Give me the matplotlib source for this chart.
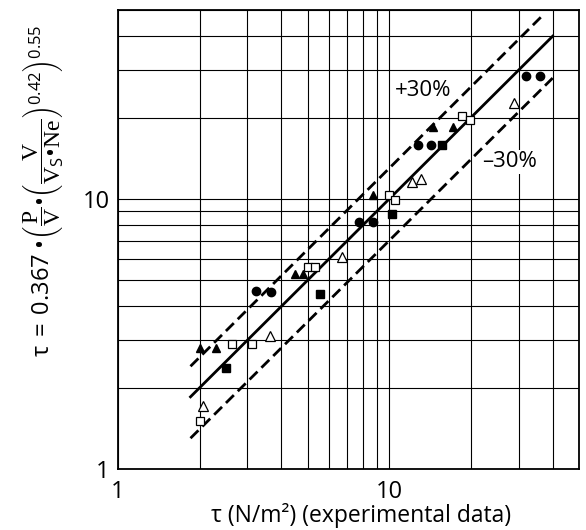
import matplotlib
matplotlib.use("Agg")
import matplotlib.pyplot as plt

# ==========================
# DATA
# ==========================

circle_x = [3.23, 3.66, 7.76, 8.67, 12.8, 14.3, 32.0, 36.0]
circle_y = [4.55, 4.51, 8.2, 8.2, 15.8, 15.8, 28.6, 28.6]

tri_x = [2.01, 2.29, 4.49, 4.8, 8.67, 14.5, 17.2]
tri_y = [2.81, 2.81, 5.26, 5.26, 10.3, 18.4, 18.5]

open_sq_x = [2.01, 2.64, 3.12, 5.0, 5.3, 10.0, 10.5, 18.5, 19.8]
open_sq_y = [1.5, 2.9, 2.9, 5.58, 5.58, 10.3, 9.9, 20.2, 19.5]

sq_x = [2.49, 5.54, 10.2, 15.6]
sq_y = [2.37, 4.44, 8.8, 15.8]

open_tri_x = [2.05, 3.63, 6.67, 12.1, 13.1, 28.7]
open_tri_y = [1.71, 3.11, 6.1, 11.5, 11.8, 22.7]

# y = x and the +/-30 % band
equal_x = [1.85, 40]
equal_y = [1.85, 40]
upper_x = [1.85, 37]
upper_y = [2.4, 48.1]
lower_x = [1.85, 40]
lower_y = [1.3, 28]

tick_vals = [1, 10]
tick_labels = ["1", "10"]

# ==========================
# STYLE
# ==========================

plt.rcParams["font.family"] = ["Open Sans", "DejaVu Sans"]
plt.rcParams["mathtext.fontset"] = "custom"
plt.rcParams["mathtext.rm"] = "Liberation Serif"
plt.rcParams["mathtext.it"] = "Liberation Serif:italic"
plt.rcParams["mathtext.sf"] = "Open Sans"

fig = plt.figure(figsize=(5.86, 5.30), dpi=100)
ax = fig.add_axes([0.2014, 0.1151, 0.7866, 0.8660])

ax.set_xscale("log")
ax.set_yscale("log")
ax.set_xlim(1, 50)
ax.set_ylim(1, 50)

ax.grid(True, which="both", color="black", linewidth=0.8)
ax.set_axisbelow(True)
ax.tick_params(which="both", length=0, labelsize=17)
ax.tick_params(axis="x", pad=8)
ax.tick_params(axis="y", pad=6)
ax.set_xticks(tick_vals)
ax.set_xticklabels(tick_labels)
ax.set_yticks(tick_vals)
ax.set_yticklabels(tick_labels)
ax.minorticks_on()
ax.xaxis.set_minor_formatter(plt.NullFormatter())
ax.yaxis.set_minor_formatter(plt.NullFormatter())

for s in ax.spines.values():
    s.set_linewidth(1.3)

# ==========================
# LINES
# ==========================

ax.plot(equal_x, equal_y, color="black", linewidth=2, zorder=3)
ax.plot(upper_x, upper_y, color="black", linewidth=2,
        dashes=(4, 2), zorder=3)
ax.plot(lower_x, lower_y, color="black", linewidth=2,
        dashes=(4, 2), zorder=3)

# ==========================
# MARKERS
# ==========================

ax.plot(circle_x, circle_y, "o", color="black", markersize=6, zorder=4)
ax.plot(tri_x, tri_y, "^", color="black", markersize=6, zorder=4)
ax.plot(sq_x, sq_y, "s", color="black", markersize=5.5, zorder=4)
ax.plot(open_sq_x, open_sq_y, "s", markerfacecolor="white",
        markeredgecolor="black", markeredgewidth=0.9,
        markersize=6, zorder=4)
ax.plot(open_tri_x, open_tri_y, "^", markerfacecolor="white",
        markeredgecolor="black", markeredgewidth=0.9,
        markersize=7, zorder=4)

# ==========================
# TEXT
# ==========================

box = dict(facecolor="white", edgecolor="none", pad=1)
ax.text(13.3, 25.2, "+30%", fontsize=16, ha="center", va="center",
        bbox=box, zorder=2)
ax.text(27.7, 13.7, "\u201330%", fontsize=16, ha="center", va="center",
        bbox=box, zorder=2)

fig.text(0.617, 0.028, "\u03c4 (N/m\u00b2) (experimental data)",
         fontsize=16.5, ha="center", va="center")

ylabel = (r"$\mathsf{\tau\ =\ 0.367}\ \mathsf{BUL}\left(\dfrac{\mathrm{P}}{\mathrm{V}}"
          r"\mathsf{BUL}\left(\dfrac{\mathrm{V}}{\mathrm{V}_{\mathsf{S}}\mathsf{BUL}\mathrm{Ne}}"
          r"\right)^{\mathsf{0.42}}\right)^{\mathsf{0.55}}$")
ylabel = ylabel.replace("BUL", "\u2022")
fig.text(0.075, 0.64, ylabel, fontsize=17, rotation=90,
         ha="center", va="center")

plt.savefig("out.png", dpi=100)
